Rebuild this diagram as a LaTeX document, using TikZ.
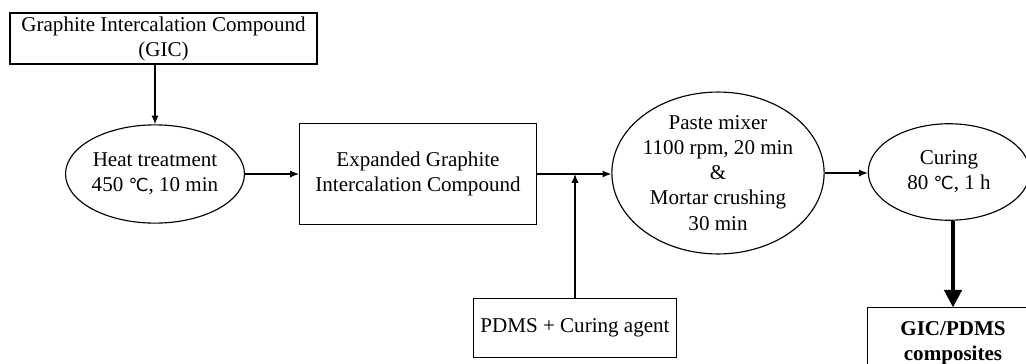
\documentclass[tikz,border=0pt]{standalone}
\usepackage{fontspec}
\setmainfont{Liberation Serif}
\newfontfamily\symfont{DejaVu Sans}[Scale=0.85]
\usepackage{tikz}
\usetikzlibrary{arrows.meta,positioning,shapes.geometric}
\newcommand{\degcel}{{\symfont ℃}}
\tikzset{
  stepbox/.style={draw, line width=0.65pt, align=center, inner sep=0pt, font=\fontsize{12}{14.3}\selectfont},
  stepoval/.style={ellipse, draw, line width=0.65pt, align=center, inner sep=0pt, font=\fontsize{12}{14.3}\selectfont},
  flowarrow/.style={-{Latex[length=5pt,width=4pt]}, line width=0.65pt},
  bigarrow/.style={-{Triangle[length=10pt,width=10pt]}, line width=2pt}
}
\begin{document}
\begin{tikzpicture}[x=0.57pt,y=-0.57pt]
\useasboundingbox (0,0) rectangle (1026,363);
% process nodes
\node[stepbox, minimum width=175pt, minimum height=29pt] (gic) at (163.5,38.5)
  {Graphite Intercalation Compound\\(GIC)};
\node[stepoval, minimum width=100pt, minimum height=56pt] (heat) at (155,174)
  {Heat treatment\\450 \degcel, 10 min};
\node[stepbox, minimum width=135pt, minimum height=58pt] (egic) at (418,174)
  {Expanded Graphite\\Intercalation Compound};
\node[stepbox, minimum width=116pt, minimum height=34pt] (pdms) at (575,328)
  {PDMS + Curing agent};
\node[stepoval, minimum width=120pt, minimum height=85pt] (mixer) at (718,173)
  {Paste mixer\\1100 rpm, 20 min\\\&\\Mortar crushing\\30 min};
\node[stepoval, minimum width=92pt, minimum height=55pt] (curing) at (949,172)
  {Curing\\80 \degcel, 1 h};
\node[stepbox, minimum width=97pt, minimum height=40pt] (composite) at (953,343)
  {\textbf{GIC/PDMS}\\\textbf{composites}};

% connectors
\coordinate (merge) at (pdms.north |- egic.east);
\draw[flowarrow] (gic.south -| heat.north) -- (heat.north);
\draw[flowarrow] (heat.east) -- (egic.west);
\draw[flowarrow] (egic.east) -- (egic.east -| mixer.west);
\draw[flowarrow] (pdms.north) -- (merge);
\draw[flowarrow] (mixer.east) -- (mixer.east -| curing.west);
\draw[bigarrow] (curing.south -| composite.north) -- (composite.north);
\end{tikzpicture}
\end{document}
